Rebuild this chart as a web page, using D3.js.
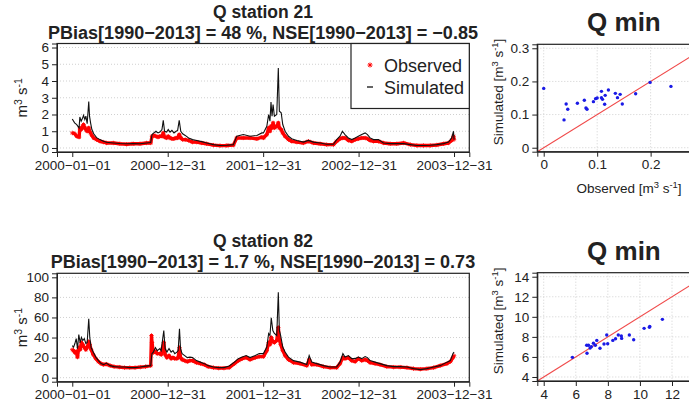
<!DOCTYPE html>
<html lang="en">
<head>
<meta charset="UTF-8">
<title>Q stations</title>
<script src="https://d3js.org/d3.v7.min.js"></script>
<style>
  body { margin: 0; background: #fff; }
  svg { display: block; font-family: "Liberation Sans", Arial, sans-serif; }
</style>
</head>
<body>
<div id="chart"></div>
<script>
// ---- data ----
// days since 2000-01-01
const days21 = [0,9,17,26,29,34,40,43,48,52,57,63,66,70,75,82,93,106,119,131,157,182,208,233,259,284,300,305,312,320,328,335,343,348,353,361,367,374,381,389,397,403,409,415,422,432,445,460,476,495,514,540,565,591,616,629,654,680,706,725,731,744,751,756,760,764,768,773,782,788,792,799,805,814,827,839,859,884,903,922,948,973,999,1011,1024,1033,1043,1056,1069,1082,1094,1107,1120,1129,1139,1152,1171,1190,1216,1241,1267,1293,1318,1343,1369,1394,1420,1439,1451,1458,1460];
const sim21 = [1.73,1.5,1.39,1.2,1.85,1.6,1.8,1.95,1.7,1.9,1.45,2.78,1.9,1.5,1.1,0.85,0.62,0.5,0.4,0.34,0.3,0.27,0.25,0.27,0.25,0.3,0.33,0.8,0.9,1.0,0.9,0.95,1.1,1.65,1.0,0.95,1.1,0.95,1.05,0.9,1.0,1.05,1.65,1.0,0.85,0.75,0.6,0.5,0.45,0.38,0.3,0.2,0.15,0.16,0.2,0.7,0.8,0.7,0.75,0.9,0.9,1.3,2.0,1.6,2.75,1.9,2.6,1.9,2.0,4.77,2.2,2.1,1.4,1.0,0.7,0.55,0.45,0.35,0.45,0.35,0.3,0.22,0.22,0.5,0.7,1.0,0.8,0.6,0.5,0.6,0.7,0.8,0.9,0.8,0.6,0.5,0.5,0.3,0.26,0.26,0.26,0.2,0.15,0.15,0.16,0.2,0.26,0.35,0.6,1.0,0.5];
const obs21 = [0.9,0.85,0.7,0.65,1.2,1.1,1.3,1.4,1.2,1.1,1.0,1.2,1.0,0.9,0.75,0.6,0.5,0.4,0.35,0.3,0.3,0.25,0.22,0.25,0.25,0.3,0.3,0.7,0.75,0.7,0.65,0.7,0.7,0.9,0.65,0.6,0.7,0.6,0.55,0.55,0.6,0.6,0.8,0.6,0.5,0.5,0.45,0.35,0.35,0.3,0.25,0.17,0.14,0.15,0.17,0.6,0.6,0.6,0.55,0.65,0.6,0.8,1.2,1.0,1.3,1.2,1.5,1.2,1.3,1.5,1.2,1.1,0.9,0.7,0.5,0.4,0.35,0.3,0.4,0.3,0.25,0.2,0.2,0.4,0.55,0.6,0.6,0.45,0.4,0.5,0.55,0.6,0.6,0.55,0.45,0.4,0.4,0.3,0.25,0.25,0.3,0.2,0.15,0.15,0.15,0.18,0.25,0.3,0.45,0.7,0.5];

const days82 = [0,5,10,15,20,25,30,35,40,46,52,57,63,67,72,80,90,100,110,120,130,145,160,180,200,220,240,260,280,300,303,305,310,318,325,335,340,346,350,355,362,370,378,385,392,400,405,410,414,420,430,440,450,460,475,490,505,520,540,560,580,600,620,635,650,665,680,700,715,731,744,751,756,761,767,773,782,788,792,797,805,814,827,846,871,897,906,916,935,961,986,1011,1024,1035,1043,1056,1069,1082,1094,1107,1120,1129,1139,1158,1177,1203,1229,1254,1280,1305,1331,1356,1382,1407,1433,1446,1456,1460];
const sim82 = [32,30.5,34,39,29,43,35,40,37,39,34,35,58.6,40,30,25.5,20.5,17,14,13,14.5,12,11,10.6,10.6,10,10,10.6,11.5,12,20,24,25.5,30,27,29,27,39,47,29,25.5,29,25.5,27,24,25.5,27,48.7,29,24,22,20,20.5,20,17,15.5,14,12,10.6,10,10,11.6,15.5,19,20.5,22,20,22,24,24,30.5,44,42,59.6,47,44,42,85,47,42,30.5,25.5,20.5,17,15.5,13,22,15.5,14,12,10.6,10.6,15.5,24,20.5,22,19,19,20.5,19,21,20,17,15.5,14,12,11,11,10.6,9,8,9,10.6,12,15.5,17,24,25.5];
const obs82 = [28,27,25,26,20.5,30,28,35,33,30,28,30,36,33,28,23,19,16,14,13,13.5,12,11,10.5,10,10,10,10.5,11,12,42,35,25,26,24,24,23,30,35,23,20,22,19,20,19,19,20,30,20,18,17,16,17,17,15,14,13,11,10,9.5,9.5,10,14,17,19,20,18,20,21,21,27,35,33,40,36,35,37,50,38,33,27,22,18,15,14,12,18,13,13,11,10,10,14,20,19,20,17,16,19,17,18,17,15,14,13,11,10.5,10.5,10,9,8.5,9,10,12,14,16,20,22];

// yearly minimum flows 1990-2013
const minObs21 = [0.0,0.038,0.042,0.045,0.063,0.076,0.079,0.081,0.093,0.097,0.100,0.108,0.108,0.110,0.114,0.115,0.121,0.134,0.138,0.143,0.147,0.172,0.199,0.238];
const minSim21 = [0.179,0.084,0.132,0.116,0.134,0.143,0.120,0.116,0.139,0.148,0.150,0.170,0.151,0.146,0.131,0.158,0.174,0.164,0.151,0.161,0.132,0.163,0.197,0.185];
const minObs82 = [5.79,6.68,6.79,6.70,6.89,6.97,7.10,7.22,7.31,7.51,7.76,7.93,7.99,8.31,8.48,8.65,8.84,8.86,9.34,9.61,10.26,10.59,10.61,11.40];
const minSim82 = [5.96,7.16,7.16,6.36,6.89,7.02,7.36,7.16,7.65,6.86,7.29,8.19,7.32,7.65,7.82,8.19,8.09,7.85,8.19,7.72,8.85,8.95,9.05,9.75];

const dateTicks = ["2000-01-01", "2000-12-31", "2001-12-31", "2002-12-31", "2003-12-31"];
const yTicks21 = [0, 1, 2, 3, 4, 5, 6];
const yTicks82 = [0, 20, 40, 60, 80, 100];
const minTicks21 = [0, 0.1, 0.2, 0.3];
const minTicks82 = [4, 6, 8, 10, 12, 14];

// ---- drawing ----
const W = 689, H = 408;
const svg = d3.select("#chart").append("svg").attr("width", W).attr("height", H);
const txt = "#222";
const font = "Liberation Sans, Arial, sans-serif";

const toDate = d => new Date(Date.UTC(2000, 0, 1) + d * 864e5);
const parse = d3.utcParse("%Y-%m-%d");

function starPath(x, y, s) {
  return `M${x - s},${y}L${x + s},${y}M${x},${y - s}L${x},${y + s}` +
    `M${x - s * 0.7},${y - s * 0.7}L${x + s * 0.7},${y + s * 0.7}M${x - s * 0.7},${y + s * 0.7}L${x + s * 0.7},${y - s * 0.7}`;
}

function unitLabel(sel, prefix, suffix) {
  sel.append("tspan").text(prefix + "m");
  sel.append("tspan").attr("dy", -5).attr("font-size", "0.7em").text("3");
  sel.append("tspan").attr("dy", 5).text("  s");
  sel.append("tspan").attr("dy", -5).attr("font-size", "0.7em").text("-1");
  sel.append("tspan").attr("dy", 5).text(suffix);
}

function styleAxis(a) {
  a.select(".domain").attr("stroke", "#222");
  a.selectAll(".tick line").attr("stroke", "#222");
  a.selectAll("text").attr("font-size", 13.5).attr("fill", txt).attr("font-family", font);
}

function drawSeries(p) {
  const g = svg.append("g");
  const left = 57, right = 469.3;
  const x = d3.scaleUtc()
    .domain([toDate(-58.4), toDate(1518.4)])
    .range([left, right]);
  const ymax = p.yTicks[p.yTicks.length - 1];
  const pad = ymax * 0.04;
  const y = d3.scaleLinear().domain([-pad, ymax + pad]).range([p.bottom, p.top]);

  // titles
  g.append("text").attr("x", 263).attr("y", p.top - 26)
    .attr("text-anchor", "middle").attr("font-weight", "bold").attr("font-size", 17.5).attr("fill", txt)
    .text(p.title);
  g.append("text").attr("x", 263).attr("y", p.top - 5)
    .attr("text-anchor", "middle").attr("font-weight", "bold").attr("font-size", 18).attr("fill", txt)
    .text(p.subtitle);

  // grid
  g.append("g").selectAll("line").data(p.yTicks).join("line")
    .attr("x1", left).attr("x2", right)
    .attr("y1", d => y(d)).attr("y2", d => y(d))
    .attr("stroke", "#d0d0d0").attr("stroke-dasharray", "1,2");

  const clipId = "clip" + p.id;
  g.append("clipPath").attr("id", clipId).append("rect")
    .attr("x", left).attr("y", p.top).attr("width", right - left).attr("height", p.bottom - p.top);

  const pts = p.days.map((d, i) => ({ t: toDate(d), o: p.obs[i], s: p.sim[i] }));
  const plot = g.append("g").attr("clip-path", `url(#${clipId})`);

  plot.append("path")
    .attr("d", d3.line().x(d => x(d.t)).y(d => y(d.o))(pts))
    .attr("fill", "none").attr("stroke", "#ff0000").attr("stroke-width", 3.4).attr("stroke-linejoin", "round");
  plot.append("path")
    .attr("d", pts.map(d => starPath(x(d.t), y(d.o), 2.2)).join(""))
    .attr("stroke", "#ff0000").attr("stroke-width", 0.8).attr("fill", "none");
  plot.append("path")
    .attr("d", d3.line().x(d => x(d.t)).y(d => y(d.s))(pts))
    .attr("fill", "none").attr("stroke", "#111").attr("stroke-width", 1.1);

  // box
  g.append("rect").attr("x", left).attr("y", p.top).attr("width", right - left).attr("height", p.bottom - p.top)
    .attr("fill", "none").attr("stroke", "#222").attr("stroke-width", 1.2);

  // axes
  const xAxis = d3.axisBottom(x).tickValues(dateTicks.map(parse))
    .tickFormat((d, i) => dateTicks[i].replace(/-/g, "\u2212"))
    .tickSize(5).tickPadding(3);
  styleAxis(g.append("g").attr("transform", `translate(0,${p.bottom})`).call(xAxis));

  const yAxis = d3.axisLeft(y).tickValues(p.yTicks).tickFormat(d3.format("d")).tickSize(5).tickPadding(3);
  styleAxis(g.append("g").attr("transform", `translate(${left},0)`).call(yAxis));

  const yl = g.append("text")
    .attr("transform", `translate(27,${(p.top + p.bottom) / 2}) rotate(-90)`)
    .attr("text-anchor", "middle").attr("font-size", 15).attr("fill", txt);
  unitLabel(yl, "", "");

  if (p.legend) {
    const lg = g.append("g");
    lg.append("rect").attr("x", 351).attr("y", p.top).attr("width", right - 351).attr("height", 65)
      .attr("fill", "#fff").attr("stroke", "#222").attr("stroke-width", 1.2);
    lg.append("path").attr("d", starPath(370, p.top + 21.5, 2.5)).attr("stroke", "#ff0000").attr("stroke-width", 1);
    lg.append("line").attr("x1", 367).attr("x2", 373).attr("y1", p.top + 43.5).attr("y2", p.top + 43.5)
      .attr("stroke", "#111").attr("stroke-width", 1.3);
    lg.append("text").attr("x", 384).attr("y", p.top + 28).attr("font-size", 18).attr("fill", txt).text("Observed");
    lg.append("text").attr("x", 384).attr("y", p.top + 50).attr("font-size", 18).attr("fill", txt).text("Simulated");
  }
}

function drawScatter(p) {
  const g = svg.append("g");
  const left = 537.3, right = 710.5;
  const lo = p.ticks[0], hi = p.ticks[p.ticks.length - 1];
  const pad = (hi - lo) * 0.04;
  const x = d3.scaleLinear().domain([lo - pad, hi + pad]).range([left, right]);
  const y = d3.scaleLinear().domain([lo - pad, hi + pad]).range([p.bottom, p.top]);

  g.append("text").attr("x", (left + right) / 2).attr("y", p.top - 13)
    .attr("text-anchor", "middle").attr("font-weight", "bold").attr("font-size", 26).attr("fill", txt)
    .text("Q min");

  g.append("g").selectAll("line").data(p.ticks).join("line")
    .attr("x1", left).attr("x2", right).attr("y1", d => y(d)).attr("y2", d => y(d))
    .attr("stroke", "#d0d0d0").attr("stroke-dasharray", "1,2");
  g.append("g").selectAll("line").data(p.ticks).join("line")
    .attr("y1", p.top).attr("y2", p.bottom).attr("x1", d => x(d)).attr("x2", d => x(d))
    .attr("stroke", "#d0d0d0").attr("stroke-dasharray", "1,2");

  const clipId = "sclip" + p.id;
  g.append("clipPath").attr("id", clipId).append("rect")
    .attr("x", left).attr("y", p.top).attr("width", right - left).attr("height", p.bottom - p.top);
  const plot = g.append("g").attr("clip-path", `url(#${clipId})`);
  plot.append("line")
    .attr("x1", x(lo - pad)).attr("y1", y(lo - pad)).attr("x2", x(hi + pad)).attr("y2", y(hi + pad))
    .attr("stroke", "#f04a4a").attr("stroke-width", 1.2);
  plot.selectAll("circle").data(p.obs).join("circle")
    .attr("cx", d => x(d)).attr("cy", (d, i) => y(p.sim[i])).attr("r", 1.7)
    .attr("fill", "#1a1ae6");

  g.append("rect").attr("x", left).attr("y", p.top).attr("width", right - left).attr("height", p.bottom - p.top)
    .attr("fill", "none").attr("stroke", "#222").attr("stroke-width", 1.2);

  styleAxis(g.append("g").attr("transform", `translate(0,${p.bottom})`)
    .call(d3.axisBottom(x).tickValues(p.ticks.slice(0, p.xCount)).tickFormat(d3.format("")).tickSize(5).tickPadding(3)));
  styleAxis(g.append("g").attr("transform", `translate(${left},0)`)
    .call(d3.axisLeft(y).tickValues(p.ticks).tickFormat(d3.format("")).tickSize(5).tickPadding(3)));

  const yl = g.append("text")
    .attr("transform", `translate(503,${(p.top + p.bottom) / 2 - 6}) rotate(-90)`)
    .attr("text-anchor", "middle").attr("font-size", 13.5).attr("fill", txt);
  unitLabel(yl, "Simulated [", "]");
  if (p.xLabel) {
    const xl = g.append("text").attr("x", 629).attr("y", p.bottom + 41)
      .attr("text-anchor", "middle").attr("font-size", 13.5).attr("fill", txt);
    unitLabel(xl, "Observed [", "]");
  }
}

drawSeries({ id: 21, top: 43.5, bottom: 152, days: days21, obs: obs21, sim: sim21, yTicks: yTicks21,
  title: "Q station 21", subtitle: "PBias[1990\u22122013] = 48 %, NSE[1990\u22122013] = \u22120.85", legend: true });
drawSeries({ id: 82, top: 273.3, bottom: 381.7, days: days82, obs: obs82, sim: sim82, yTicks: yTicks82,
  title: "Q station 82", subtitle: "PBias[1990\u22122013] = 1.7 %, NSE[1990\u22122013] = 0.73", legend: false });
drawScatter({ id: 21, top: 44.3, bottom: 151.7, obs: minObs21, sim: minSim21, ticks: minTicks21, xCount: 3, xLabel: true });
drawScatter({ id: 82, top: 272.7, bottom: 381, obs: minObs82, sim: minSim82, ticks: minTicks82, xCount: 5, xLabel: false });
</script>
</body>
</html>
